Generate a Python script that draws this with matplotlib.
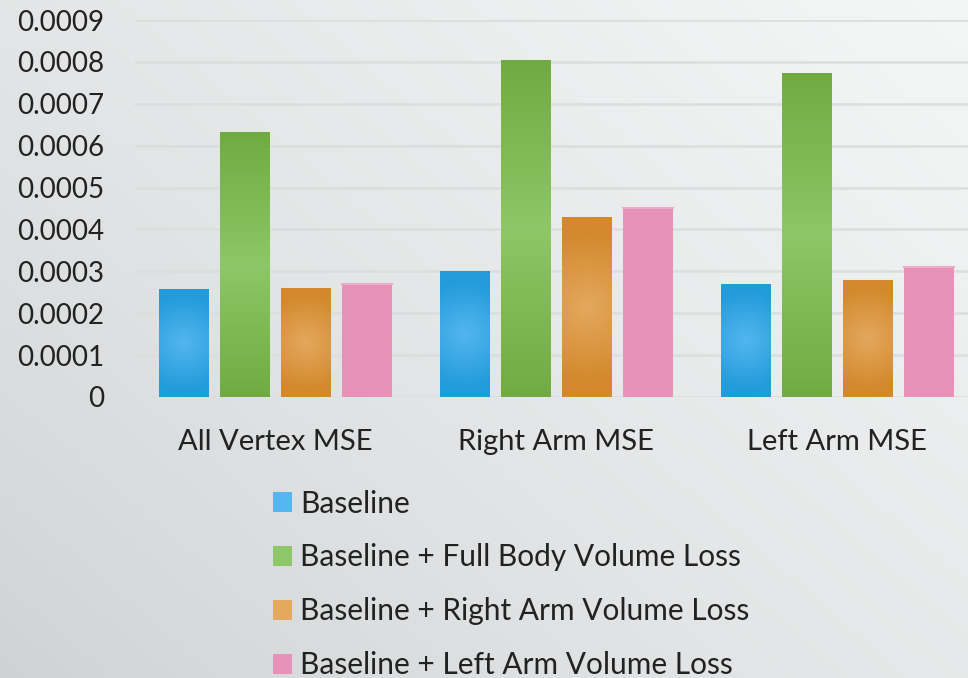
import numpy as np
import matplotlib.pyplot as plt
from matplotlib.colors import to_rgb
from matplotlib.patches import Patch

plt.rcParams["font.family"] = ["Lato", "DejaVu Sans"]

categories = ["All Vertex MSE", "Right Arm MSE", "Left Arm MSE"]
series = [
    "Baseline",
    "Baseline + Full Body Volume Loss",
    "Baseline + Right Arm Volume Loss",
    "Baseline + Left Arm Volume Loss",
]
baseline = [0.000258, 0.000300, 0.000270]
full_body = [0.000632, 0.000804, 0.000773]
right_arm = [0.000260, 0.000430, 0.000280]
left_arm = [0.000270, 0.000451, 0.000310]
values = [baseline, full_body, right_arm, left_arm]
yticks = [i * 0.0001 for i in range(10)]
ytick_labels = ["0"] + ["0.000%d" % i for i in range(1, 10)]

# (edge colour, centre colour, gradient style)
fills = [
    ("#229bdb", "#53b6ee", "radial"),
    ("#70ab42", "#8dc767", "vertical"),
    ("#d3892c", "#e4a85e", "radial"),
    ("#e792b9", "#e792b9", "flat"),
]

fig = plt.figure(figsize=(9.68, 6.78), dpi=100)

# soft grey backdrop, lighter toward the top right
bg = fig.add_axes([0, 0, 1, 1], zorder=-10)
gx, gy = np.meshgrid(np.linspace(0, 1, 200), np.linspace(0, 1, 200))
t = np.clip(0.55 * gx + 0.45 * gy, 0, 1)
dark = np.array(to_rgb("#cfd2d4"))
light = np.array(to_rgb("#f5f6f6"))
img = dark + (light - dark) * t[..., None] ** 0.8
bg.imshow(img, origin="lower", extent=[0, 1, 0, 1], aspect="auto")
bg.axis("off")

ax = fig.add_axes([0.1395, 0.4145, 0.8605, 0.556])
ax.patch.set_alpha(0)

x = np.arange(len(categories))
width = 0.178
step = 0.217
offsets = (np.arange(len(series)) - 1.5) * step


def gradient_image(kind, edge, centre, w_px, h_px):
    e = np.array(to_rgb(edge))
    c = np.array(to_rgb(centre))
    n = 100
    u, v = np.meshgrid(np.linspace(-0.5, 0.5, n), np.linspace(-0.5, 0.5, n))
    if kind == "radial":
        px = u * w_px
        py = v * h_px
        r = np.sqrt(px ** 2 + py ** 2) / np.sqrt((w_px / 2) ** 2 + (h_px / 2) ** 2)
        d = np.clip(r * 1.25, 0, 1)
    elif kind == "vertical":
        d = np.abs(v) * 2
    else:
        d = np.zeros_like(u)
    return c + (e - c) * d[..., None]


px_per_unit_x = 833 / (2.466 + 0.5)
px_per_unit_y = 377 / 0.0009

for i, name in enumerate(series):
    edge, centre, kind = fills[i]
    bars = ax.bar(x + offsets[i], values[i], width, color=centre,
                  edgecolor="none", zorder=3, label=name)
    for bar in bars:
        x0 = bar.get_x()
        h = bar.get_height()
        im = ax.imshow(
            gradient_image(kind, edge, centre, width * px_per_unit_x,
                           h * px_per_unit_y),
            extent=[x0, x0 + width, 0, h], aspect="auto", zorder=4,
            origin="lower",
        )
        im.set_clip_path(bar)
    if kind == "flat":
        for bar in bars:
            ax.plot([bar.get_x(), bar.get_x() + width],
                    [bar.get_height(), bar.get_height()],
                    color="#eeaccb", lw=1.5, zorder=5)

ax.set_xlim(-0.5, 2.466)
ax.set_ylim(0, 0.0009)
ax.set_yticks(yticks)
ax.set_yticklabels(ytick_labels)
ax.set_xticks(x)
ax.set_xticklabels(categories)
ax.yaxis.grid(True, color="#dcdddd", lw=1.8, zorder=0)
ax.set_axisbelow(True)
for s in ax.spines.values():
    s.set_visible(False)
ax.tick_params(axis="both", length=0, colors="#222222")
ax.tick_params(axis="y", labelsize=20, pad=22)
ax.tick_params(axis="x", labelsize=21, pad=23)

handles = [Patch(facecolor=f[1], edgecolor="none") for f in fills]
fig.legend(handles, series, loc="upper left", bbox_to_anchor=(0.282, 0.278),
           frameon=False, fontsize=21.5, handlelength=0.65, handleheight=0.65,
           handletextpad=0.25, labelspacing=0.87, labelcolor="#222222",
           borderpad=0, borderaxespad=0)

fig.savefig("out.png", dpi=100)
